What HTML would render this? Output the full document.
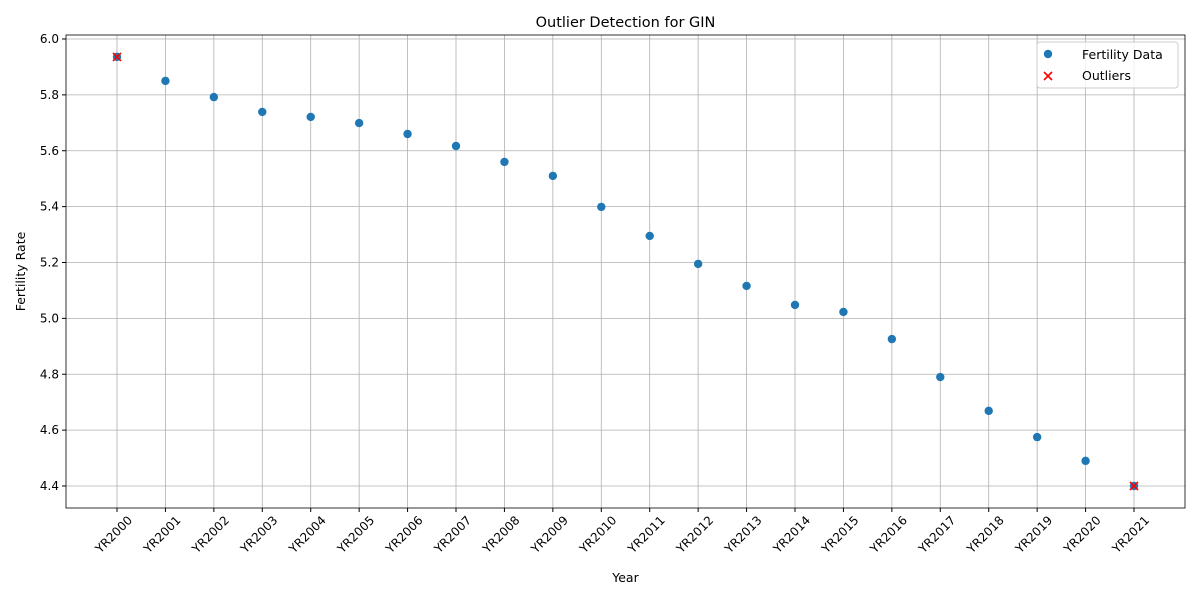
<!DOCTYPE html>
<html><head><meta charset="utf-8"><style>
body{margin:0;background:#fff;font-family:"Liberation Sans","DejaVu Sans",sans-serif;}
</style></head><body>
<svg id="chart" width="1200" height="600" xmlns="http://www.w3.org/2000/svg" font-family="DejaVu Sans, Liberation Sans, sans-serif"></svg>
<script>
const years=["YR2000","YR2001","YR2002","YR2003","YR2004","YR2005","YR2006","YR2007","YR2008","YR2009","YR2010","YR2011","YR2012","YR2013","YR2014","YR2015","YR2016","YR2017","YR2018","YR2019","YR2020","YR2021"];
const fertility=[5.936,5.85,5.792,5.739,5.721,5.699,5.66,5.617,5.56,5.51,5.399,5.295,5.195,5.116,5.048,5.023,4.926,4.79,4.669,4.575,4.49,4.4];
const outlierIdx=[0,21];
const yTicks=[4.4,4.6,4.8,5.0,5.2,5.4,5.6,5.8,6.0];
const L=66,R=1185,T=35,B=508;
const x=i=>117+i*(1134-117)/21;
const y=v=>39+(6.0-v)*(486-39)/1.6;
const svg=document.getElementById('chart');
const NS="http://www.w3.org/2000/svg";
function mk(tag,attrs,parent){const e=document.createElementNS(NS,tag);for(const k in attrs)e.setAttribute(k,attrs[k]);(parent||svg).appendChild(e);return e;}
yTicks.forEach(v=>{
 const g=mk('line',{x1:L,x2:R,y1:y(v),y2:y(v),stroke:'#b0b0b0','stroke-width':0.8});
 
 
 mk('line',{x1:L-4,x2:L,y1:y(v),y2:y(v),stroke:'#000'});
 const t=mk('text',{x:L-7,y:y(v)+4,'text-anchor':'end','font-size':12});
 t.textContent=v.toFixed(1);
 
 
});
years.forEach((yr,i)=>{
 const g=mk('line',{x1:x(i),x2:x(i),y1:T,y2:B,stroke:'#b0b0b0','stroke-width':0.8});
 
 
 mk('line',{x1:x(i),x2:x(i),y1:B,y2:B+4,stroke:'#000'});
 const ax=x(i)+16,ay=B+13;
 const t=mk('text',{x:ax,y:ay,'text-anchor':'end','font-size':12,transform:`rotate(-45 ${ax} ${ay})`});
 t.textContent=yr;
 
 
});
const frame=mk('rect',{x:L,y:T,width:R-L,height:B-T,fill:'none',stroke:'#000','stroke-width':0.8});


fertility.forEach((v,i)=>{
 const c=mk('circle',{cx:x(i),cy:y(v),r:4.2,fill:'#1f77b4'});
 
 
});
outlierIdx.forEach(i=>{
 const cx=x(i),cy=y(fertility[i]),s=4;
 const g=mk('path',{d:`M${cx-s},${cy-s}L${cx+s},${cy+s}M${cx-s},${cy+s}L${cx+s},${cy-s}`,stroke:'#ff0000','stroke-width':1.6});
 
 
});
const title=mk('text',{x:(L+R)/2,y:27,'text-anchor':'middle','font-size':14.5});
title.textContent='Outlier Detection for GIN';


const xl=mk('text',{x:(L+R)/2,y:582,'text-anchor':'middle','font-size':12.5});
xl.textContent='Year';


const yl=mk('text',{x:25,y:(T+B)/2,'text-anchor':'middle','font-size':12.5,transform:`rotate(-90 25 ${(T+B)/2})`});
yl.textContent='Fertility Rate';


const lg=mk('g',{});


mk('rect',{x:1037,y:42,width:141,height:46,rx:3,fill:'#fff','fill-opacity':0.8,stroke:'#ccc'},lg);
mk('circle',{cx:1048,cy:54,r:4.2,fill:'#1f77b4'},lg);
const t1=mk('text',{x:1082,y:59,'font-size':12.5},lg);t1.textContent='Fertility Data';


mk('path',{d:'M1044,72L1052,80M1044,80L1052,72',stroke:'#f00','stroke-width':1.6},lg);
const t2=mk('text',{x:1082,y:80,'font-size':12.5},lg);t2.textContent='Outliers';


</script>
</body></html>
